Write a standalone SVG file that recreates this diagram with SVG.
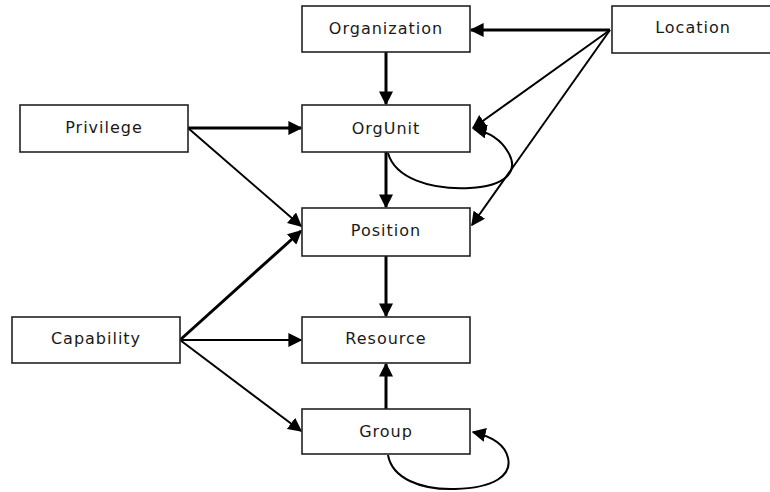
<svg xmlns="http://www.w3.org/2000/svg" width="770" height="492" viewBox="0 0 770 492">
  <defs>
    <style>
      .box { fill: #ffffff; stroke: #222222; stroke-width: 1.6; }
      .lbl { font-family: "DejaVu Sans", "Liberation Sans", sans-serif; font-size: 16px; fill: #1a1a1a; text-anchor: middle; dominant-baseline: central; letter-spacing: 1px; }
      .edge { fill: none; stroke: #000000; stroke-width: 2; }
      .thick { stroke-width: 3; }
    </style>
    <marker id="arrow" viewBox="0 0 10 10" refX="9" refY="5" markerWidth="14" markerHeight="14" markerUnits="userSpaceOnUse" orient="auto">
      <path d="M0,0 L10,5 L0,10 Z" fill="#000000"/>
    </marker>
  </defs>
  <rect width="770" height="492" fill="#ffffff"/>

  <!-- connectors -->
  <g id="connectors">
    <path class="edge thick" d="M610,30 L471,30" marker-end="url(#arrow)"/>
    <path class="edge" d="M610,30 L473,128" marker-end="url(#arrow)"/>
    <path class="edge" d="M610,30 L472,225" marker-end="url(#arrow)"/>
    <path class="edge thick" d="M386,52 L386,104" marker-end="url(#arrow)"/>
    <path class="edge thick" d="M386,152 L386,207" marker-end="url(#arrow)"/>
    <path class="edge" d="M388,153 C395,178 430,190 470,188 C505,186 520,172 508,152 C500,138 488,132 474,129" marker-end="url(#arrow)"/>
    <path class="edge thick" d="M386,256 L386,316" marker-end="url(#arrow)"/>
    <path class="edge thick" d="M386,409 L386,364" marker-end="url(#arrow)"/>
    <path class="edge" d="M388,455 C392,478 420,490 455,489 C495,488 512,475 508,458 C505,444 490,436 473,432" marker-end="url(#arrow)"/>
    <path class="edge thick" d="M188,128 L301,128" marker-end="url(#arrow)"/>
    <path class="edge" d="M188,128 L301,226" marker-end="url(#arrow)"/>
    <path class="edge thick" d="M180,340 L301,231" marker-end="url(#arrow)"/>
    <path class="edge" d="M180,340 L301,340" marker-end="url(#arrow)"/>
    <path class="edge" d="M180,340 L301,431" marker-end="url(#arrow)"/>
  </g>

  <!-- nodes -->
  <g id="organization">
    <rect class="box" x="302" y="6" width="168" height="46"/>
    <text class="lbl" x="386" y="28">Organization</text>
  </g>
  <g id="location">
    <rect class="box" x="612" y="6" width="160" height="47"/>
    <text class="lbl" x="693" y="27">Location</text>
  </g>
  <g id="orgunit">
    <rect class="box" x="302" y="105" width="168" height="47"/>
    <text class="lbl" x="386" y="128">OrgUnit</text>
  </g>
  <g id="privilege">
    <rect class="box" x="20" y="105" width="168" height="47"/>
    <text class="lbl" x="104" y="127">Privilege</text>
  </g>
  <g id="position">
    <rect class="box" x="302" y="208" width="168" height="48"/>
    <text class="lbl" x="386" y="230">Position</text>
  </g>
  <g id="capability">
    <rect class="box" x="12" y="317" width="168" height="46"/>
    <text class="lbl" x="96" y="338">Capability</text>
  </g>
  <g id="resource">
    <rect class="box" x="302" y="317" width="168" height="46"/>
    <text class="lbl" x="386" y="338">Resource</text>
  </g>
  <g id="group">
    <rect class="box" x="302" y="409" width="168" height="45"/>
    <text class="lbl" x="386" y="431">Group</text>
  </g>
</svg>
